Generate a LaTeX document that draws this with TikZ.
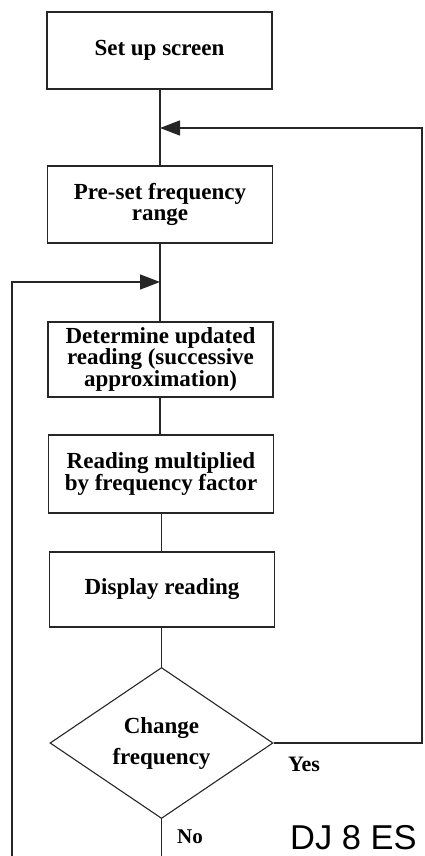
\documentclass[tikz,border=0pt]{standalone}
\usepackage{fontspec}
\setmainfont{Liberation Serif}
\newfontfamily\labelsans{Liberation Sans}
\usetikzlibrary{shapes.geometric,arrows.meta}
\tikzset{
  stepbox/.style={draw=black!85, line width=1.3pt, minimum width=225pt, inner sep=0pt, align=center,
    font=\fontsize{23}{19.5}\selectfont\bfseries},
  decision/.style={draw=black!85, line width=1.1pt, diamond, minimum width=223pt, minimum height=151pt,
    inner sep=0pt, align=center, font=\fontsize{23}{31}\selectfont\bfseries},
  conn/.style={draw=black!85, line width=1.3pt},
  headed/.style={conn, -{Triangle[length=20pt,width=15pt]}},
  lbl/.style={anchor=base west, inner sep=0pt, font=\fontsize{22}{22}\selectfont\bfseries}
}
\begin{document}
\begin{tikzpicture}[x=1pt,y=-1pt]
\useasboundingbox (0,0) rectangle (424,856);
\node[stepbox, minimum height=77pt] (b1) at (159.5,50.5) {Set up screen};
\node[stepbox, minimum height=77pt, font=\fontsize{23}{21}\selectfont\bfseries] (b2) at (160,204.5) {Pre-set frequency\\range};
\node[stepbox, minimum height=75pt] (b3) at (160.5,359.5) {Determine updated\\reading (successive\\approximation)};
\node[stepbox, minimum height=78pt] (b4) at (161,474) {Reading multiplied\\by frequency factor};
\node[stepbox, minimum height=75pt] (b5) at (162,589.5) {Display reading};
\node[decision] (d) at (161.5,743) {Change\\frequency};
\coordinate (j1) at (160,128);
\coordinate (j2) at (160,282);
\coordinate (r1) at (422,743);
\coordinate (r2) at (422,128);
\coordinate (l1) at (12,856);
\coordinate (l2) at (12,282);
\coordinate (nob) at (161.5,856);
\draw[conn] (b1.south -| j1) -- (b2.north -| j1);
\draw[conn] (b2.south -| j2) -- (b3.north -| j2);
\draw[conn] (b3.south -| j2) -- (b4.north -| j2);
\draw[conn] (b4.south -| d) -- (b5.north -| d);
\draw[conn] (b5.south -| d) -- (d.north);
\draw[conn] (d.south) -- (nob);
\draw[headed] (d.east) -- (r1) -- (r2) -- (j1);
\draw[headed] (l1) -- (l2) -- (j2);
\node[lbl] (yes) at (288,771) {Yes};
\node[lbl, font=\fontsize{21}{21}\selectfont\bfseries] (no) at (177,843) {No};
\node[anchor=base west, inner sep=0pt, text depth=0pt, font=\labelsans\fontsize{34.5}{34.5}\selectfont] (code) at (290,849) {DJ 8 ES};
\end{tikzpicture}
\end{document}
